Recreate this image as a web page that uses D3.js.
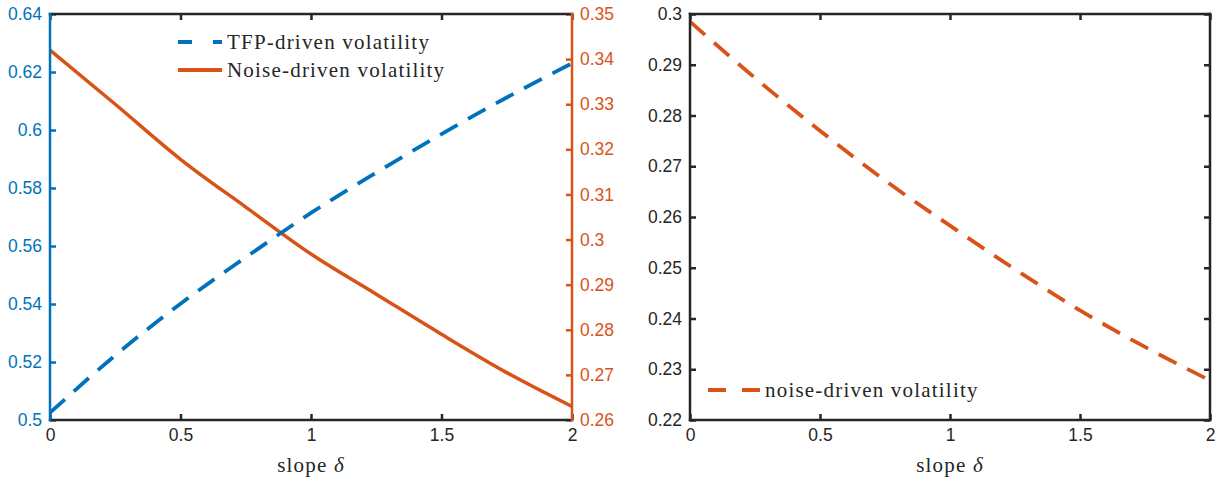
<!DOCTYPE html>
<html><head><meta charset="utf-8">
<script src="https://cdn.jsdelivr.net/npm/d3@7/dist/d3.min.js"></script>
<style>body{margin:0;background:#fff}svg{display:block}</style>
</head><body><svg id="c" width="1225" height="481"></svg>
<script>
// ---- data ----
const slope = [0, 0.25, 0.5, 0.75, 1, 1.25, 1.5, 1.75, 2];
const tfpVol = [0.5025, 0.5223, 0.5401, 0.5561, 0.5714, 0.5853, 0.5986, 0.6112, 0.6230];
const noiseVolLeft = [0.3420, 0.3300, 0.3178, 0.3072, 0.2968, 0.2879, 0.2790, 0.2705, 0.2630];
const noiseVolRight = [0.2985, 0.2874, 0.2770, 0.2672, 0.2583, 0.2497, 0.2416, 0.2344, 0.2278];
const xTicks = [0, 0.5, 1, 1.5, 2];
const xTickLabels = ["0", "0.5", "1", "1.5", "2"];
const leftYTicks = [0.5, 0.52, 0.54, 0.56, 0.58, 0.6, 0.62, 0.64];
const leftYTickLabels = ["0.5", "0.52", "0.54", "0.56", "0.58", "0.6", "0.62", "0.64"];
const rightYTicks = [0.26, 0.27, 0.28, 0.29, 0.3, 0.31, 0.32, 0.33, 0.34, 0.35];
const rightYTickLabels = ["0.26", "0.27", "0.28", "0.29", "0.3", "0.31", "0.32", "0.33", "0.34", "0.35"];
const p2YTicks = [0.22, 0.23, 0.24, 0.25, 0.26, 0.27, 0.28, 0.29, 0.3];
const p2YTickLabels = ["0.22", "0.23", "0.24", "0.25", "0.26", "0.27", "0.28", "0.29", "0.3"];
const legend1 = ["TFP-driven volatility", "Noise-driven volatility"];
const legend2 = ["noise-driven volatility"];
const xLabelWord = "slope ";
const xLabelSym = "δ";

// ---- styles ----
const BLUE = "#0072BD", ORANGE = "#D95319", INK = "#262626";
const TICKFONT = "Liberation Sans, Arial, sans-serif";
const SERIF = "Liberation Serif, Times New Roman, serif";
const SERIF_SIZE = 21, SERIF_SPACING = 1.2;
const svg = d3.select("#c");

function frameLine(g, x1, y1, x2, y2, color) {
  g.append("line").attr("x1", x1).attr("y1", y1).attr("x2", x2).attr("y2", y2)
    .attr("stroke", color).attr("stroke-width", 2.5).attr("stroke-linecap", "square");
}
function styleAxis(sel, color) {
  sel.select(".domain").remove();
  sel.selectAll(".tick line").attr("stroke", color).attr("stroke-width", 2.5);
  sel.selectAll(".tick text").attr("fill", color).attr("font-family", TICKFONT).attr("font-size", 17.5);
}
function serifText(g, x, y) {
  return g.append("text").attr("x", x).attr("y", y)
    .attr("font-family", SERIF).attr("font-size", SERIF_SIZE)
    .attr("letter-spacing", SERIF_SPACING).attr("fill", INK);
}
const fmt = (ticks, labels) => d => labels[ticks.indexOf(d)];
function xLabel(g, cx) {
  const t = serifText(g, cx, 472).attr("text-anchor", "middle");
  t.append("tspan").text(xLabelWord);
  t.append("tspan").attr("font-style", "italic").text(xLabelSym);
}
const curve = d3.curveMonotoneX;

// ---- panel 1 ----
const P1 = {l: 50, r: 572, t: 14, b: 420};
const x1 = d3.scaleLinear().domain([0, 2]).range([P1.l, P1.r]);
const yL = d3.scaleLinear().domain([0.5, 0.64]).range([P1.b, P1.t]);
const yR = d3.scaleLinear().domain([0.26, 0.35]).range([P1.b, P1.t]);
const g1 = svg.append("g");

const lineTfp = d3.line().curve(curve).x((d, i) => x1(slope[i])).y(d => yL(d));
const lineNoiseL = d3.line().curve(curve).x((d, i) => x1(slope[i])).y(d => yR(d));
g1.append("path").attr("d", lineNoiseL(noiseVolLeft)).attr("fill", "none")
  .attr("stroke", ORANGE).attr("stroke-width", 3.5);
g1.append("path").attr("d", lineTfp(tfpVol)).attr("fill", "none")
  .attr("stroke", BLUE).attr("stroke-width", 3.8).attr("stroke-dasharray", "20,12");

g1.append("g").attr("transform", `translate(0,${P1.b})`)
  .call(d3.axisBottom(x1).tickValues(xTicks).tickFormat(fmt(xTicks, xTickLabels)).tickSize(-6).tickPadding(9))
  .call(s => styleAxis(s, INK));
g1.append("g").attr("transform", `translate(0,${P1.t})`)
  .call(d3.axisTop(x1).tickValues(xTicks).tickSize(-6).tickFormat(""))
  .call(s => styleAxis(s, INK));
g1.append("g").attr("transform", `translate(${P1.l},0)`)
  .call(d3.axisLeft(yL).tickValues(leftYTicks).tickFormat(fmt(leftYTicks, leftYTickLabels)).tickSize(-6).tickPadding(8))
  .call(s => styleAxis(s, BLUE));
g1.append("g").attr("transform", `translate(${P1.r},0)`)
  .call(d3.axisRight(yR).tickValues(rightYTicks).tickFormat(fmt(rightYTicks, rightYTickLabels)).tickSize(-6).tickPadding(8))
  .call(s => styleAxis(s, ORANGE));
frameLine(g1, P1.l, P1.t, P1.r, P1.t, INK);
frameLine(g1, P1.l, P1.b, P1.r, P1.b, INK);
frameLine(g1, P1.l, P1.t, P1.l, P1.b, BLUE);
frameLine(g1, P1.r, P1.t, P1.r, P1.b, ORANGE);
xLabel(g1, (P1.l + P1.r) / 2);

// legend 1
const leg1 = g1.append("g");
[[BLUE, true], [ORANGE, false]].forEach((s, i) => {
  const yy = 42 + i * 28;
  const ln = leg1.append("line").attr("x1", 178).attr("x2", 222).attr("y1", yy).attr("y2", yy)
    .attr("stroke", s[0]).attr("stroke-width", 3.8);
  if (s[1]) ln.attr("stroke-dasharray", "14,21");
  serifText(leg1, 227, yy).attr("dy", "0.33em").text(legend1[i]);
});

// ---- panel 2 ----
const P2 = {l: 690, r: 1210, t: 14, b: 420};
const x2 = d3.scaleLinear().domain([0, 2]).range([P2.l, P2.r]);
const y2 = d3.scaleLinear().domain([0.22, 0.3]).range([P2.b, P2.t]);
const g2 = svg.append("g");
const lineP2 = d3.line().curve(curve).x((d, i) => x2(slope[i])).y(d => y2(d));
g2.append("path").attr("d", lineP2(noiseVolRight)).attr("fill", "none")
  .attr("stroke", ORANGE).attr("stroke-width", 3.8).attr("stroke-dasharray", "20,12");

g2.append("g").attr("transform", `translate(0,${P2.b})`)
  .call(d3.axisBottom(x2).tickValues(xTicks).tickFormat(fmt(xTicks, xTickLabels)).tickSize(-6).tickPadding(9))
  .call(s => styleAxis(s, INK));
g2.append("g").attr("transform", `translate(0,${P2.t})`)
  .call(d3.axisTop(x2).tickValues(xTicks).tickSize(-6).tickFormat(""))
  .call(s => styleAxis(s, INK));
g2.append("g").attr("transform", `translate(${P2.l},0)`)
  .call(d3.axisLeft(y2).tickValues(p2YTicks).tickFormat(fmt(p2YTicks, p2YTickLabels)).tickSize(-6).tickPadding(8))
  .call(s => styleAxis(s, INK));
g2.append("g").attr("transform", `translate(${P2.r},0)`)
  .call(d3.axisRight(y2).tickValues(p2YTicks).tickSize(-6).tickFormat(""))
  .call(s => styleAxis(s, INK));
frameLine(g2, P2.l, P2.t, P2.r, P2.t, INK);
frameLine(g2, P2.l, P2.b, P2.r, P2.b, INK);
frameLine(g2, P2.l, P2.t, P2.l, P2.b, INK);
frameLine(g2, P2.r, P2.t, P2.r, P2.b, INK);
xLabel(g2, (P2.l + P2.r) / 2);

const leg2 = g2.append("g");
leg2.append("line").attr("x1", 708).attr("x2", 760).attr("y1", 390).attr("y2", 390)
  .attr("stroke", ORANGE).attr("stroke-width", 3.8).attr("stroke-dasharray", "18,16");
serifText(leg2, 765, 390).attr("dy", "0.33em").text(legend2[0]);
</script></body></html>
